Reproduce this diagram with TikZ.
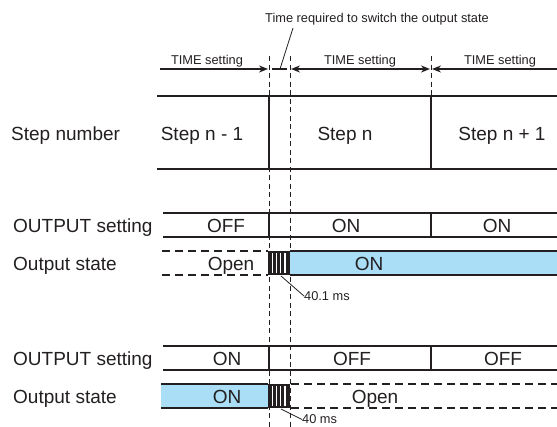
\documentclass[tikz,border=0pt]{standalone}
\usepackage{fontspec}
\setmainfont{Liberation Sans}
\usetikzlibrary{arrows.meta,positioning,calc}
\definecolor{tline}{HTML}{231F20}
\definecolor{tblue}{HTML}{A9DEF6}
\tikzset{
  rowlbl/.style={anchor=base west, inner sep=0pt, font=\fontsize{19}{22}\selectfont, text=tline},
  cell/.style={anchor=base, inner sep=0pt, font=\fontsize{19}{22}\selectfont, text=tline},
  small/.style={anchor=base, inner sep=0pt, font=\fontsize{12.8}{15}\selectfont, text=tline},
  thickln/.style={draw=tline, line width=2.8pt},
  thinln/.style={draw=tline, line width=1.2pt},
  guide/.style={draw=tline, line width=0.9pt, dash pattern=on 5pt off 3.5pt},
  openln/.style={draw=tline, line width=2.1pt, dash pattern=on 8pt off 5pt},
  tarr/.style={draw=tline, line width=1.6pt, -{Stealth[length=9pt,width=7pt]}},
  leader/.style={draw=tline, line width=0.8pt},
}
% switching interval, drawn between two levels
\newcommand{\swhatch}[2]{%
  \fill[tline] (268,#1) rectangle (290,#2);
  \foreach \hx in {272.4,276.6,280.8,285.0} \draw[white, line width=1.3pt] (\hx,#1+2) -- (\hx,#2-2);
}

\begin{document}
\begin{tikzpicture}[x=1pt,y=-1pt]
  \useasboundingbox (0,0) rectangle (557,426);

  % guides
  \coordinate (g1) at (269,56); \coordinate (g1e) at (269,430);
  \coordinate (g2) at (290,56); \coordinate (g2e) at (290,430);
  \coordinate (g3) at (431,56); \coordinate (g3e) at (431,96);
  \draw[guide] (g1) -- (g1e);
  \draw[guide] (g2) -- (g2e);
  \draw[guide] (g3) -- (g3e);

  % time axis
  \coordinate (a0) at (160,69);
  \coordinate (a1) at (268,69);
  \coordinate (a2) at (291,69);
  \coordinate (a3) at (430,69);
  \coordinate (a4) at (557,69);
  \coordinate (s0) at (272,69);
  \coordinate (s1) at (287,69);
  \coordinate (sm) at (280,69);
  \coordinate (st) at (293,28);
  \draw[tarr] (a0) -- (a1);
  \draw[tarr, {Stealth[length=9pt,width=7pt]}-{Stealth[length=9pt,width=7pt]}] (a2) -- (a3);
  \draw[tarr] (a4) -- (432,69);
  \draw[tline, line width=1.6pt] (s0) -- (s1);
  \draw[leader] (sm) -- (st);
  \node[small] (tsw) at (377,22.6) {Time required to switch the output state};
  \node[small] (ts1) at (207,64.6) {TIME setting};
  \node[small] (ts2) at (360,64.6) {TIME setting};
  \node[small] (ts3) at (500,64.6) {TIME setting};

  % step number
  \node[rowlbl] (lstep) at (11,140) {Step number};
  \draw[thickln] (157,96) -- (269,96);
  \draw[thinln] (269,96) -- (557,96);
  \draw[thinln] (157,169) -- (269,169);
  \draw[thickln] (269,169) -- (557,169);
  \draw[thinln] (269,96) -- (269,169);
  \draw[thickln] (431,96) -- (431,169);
  \node[cell] (sp) at (202,140) {Step n - 1};
  \node[cell] (sn) at (345,140) {Step n};
  \node[cell] (sx) at (502,140) {Step n + 1};

  % case 1: OFF -> ON
  \node[rowlbl] (lout1) at (13,232) {OUTPUT setting};
  \draw[thickln] (163,213) -- (557,213) (163,237) -- (557,237);
  \draw[thickln] (269,213) -- (269,237) (431,213) -- (431,237);
  \node[cell] (o1a) at (226,232) {OFF};
  \node[cell] (o1b) at (346,232) {ON};
  \node[cell] (o1c) at (497,232) {ON};

  \node[rowlbl] (lst1) at (13,270) {Output state};
  \fill[tblue] (290,251) rectangle (557,275);
  \draw[thickln] (290,251) -- (557,251) (290,275) -- (557,275);
  \draw[openln] (162,251) -- (268,251) (162,275) -- (268,275);
  \swhatch{251}{275}
  \node[cell] (q1a) at (231,270) {Open};
  \node[cell] (q1b) at (369,270) {ON};
  \node[small, anchor=west] (d1) at (304,296) {40.1 ms};
  \coordinate (d1s) at (281,276);
  \draw[leader] (d1s) -- (d1.west);

  % case 2: ON -> OFF
  \node[rowlbl] (lout2) at (13,365) {OUTPUT setting};
  \draw[thickln] (163,346) -- (557,346) (163,370) -- (557,370);
  \draw[thickln] (269,346) -- (269,370) (431,346) -- (431,370);
  \node[cell] (o2a) at (227,365) {ON};
  \node[cell] (o2b) at (352,365) {OFF};
  \node[cell] (o2c) at (503,365) {OFF};

  \node[rowlbl] (lst2) at (13,403) {Output state};
  \fill[tblue] (161,384) rectangle (268,408);
  \draw[thickln] (161,384) -- (268,384) (161,408) -- (268,408);
  \draw[openln] (291,384) -- (557,384) (291,408) -- (557,408);
  \swhatch{384}{408}
  \node[cell] (q2a) at (227,403) {ON};
  \node[cell] (q2b) at (375,403) {Open};
  \node[small, anchor=west] (d2) at (302,419.5) {40 ms};
  \coordinate (d2s) at (281,409);
  \draw[leader] (d2s) -- (d2.west);
\end{tikzpicture}
\end{document}
